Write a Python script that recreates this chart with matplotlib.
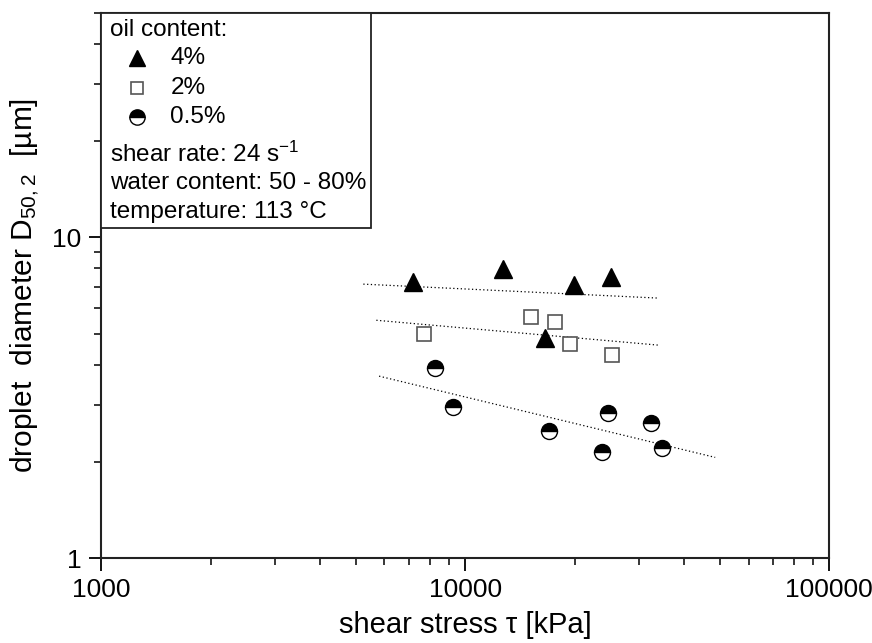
import matplotlib
matplotlib.use("Agg")
import matplotlib.pyplot as plt
from matplotlib.ticker import LogLocator, FuncFormatter, NullFormatter
from matplotlib.patches import Rectangle

plt.rcParams["font.family"] = ["Liberation Sans", "DejaVu Sans"]
plt.rcParams["mathtext.default"] = "regular"

# measured points
stress_4 = [7200, 12700, 19900, 25200, 16600]
d50_4 = [7.24, 7.95, 7.09, 7.50, 4.85]

stress_2 = [7700, 15200, 17600, 19400, 25300]
d50_2 = [4.99, 5.63, 5.44, 4.64, 4.29]

stress_05 = [8280, 9270, 17000, 24700, 23800, 32400, 34700]
d50_05 = [3.91, 2.95, 2.49, 2.83, 2.14, 2.63, 2.20]

# trend line end points
fit_x_4 = [5250, 33900]
fit_y_4 = [7.14, 6.46]
fit_x_2 = [5700, 33900]
fit_y_2 = [5.51, 4.61]
fit_x_05 = [5800, 48600]
fit_y_05 = [3.69, 2.06]

fig = plt.figure(figsize=(8.72, 6.43), dpi=100)
ax = fig.add_axes([0.116, 0.132, 0.835, 0.848])

dot = dict(color="black", linestyle=(0, (1, 2)), linewidth=0.9)
ax.plot(fit_x_4, fit_y_4, **dot)
ax.plot(fit_x_2, fit_y_2, **dot)
ax.plot(fit_x_05, fit_y_05, **dot)

ax.plot(stress_4, d50_4, linestyle="none", marker="^", markersize=12.5,
        color="black")
ax.plot(stress_2, d50_2, linestyle="none", marker="s", markersize=10,
        markerfacecolor="white", markeredgecolor="#555555", markeredgewidth=1.2)
ax.plot(stress_05, d50_05, linestyle="none", marker="o", markersize=11.5,
        fillstyle="top", markerfacecolor="black", markerfacecoloralt="white",
        markeredgecolor="black", markeredgewidth=1.0)

ax.set_xscale("log")
ax.set_yscale("log")
ax.set_xlim(1000, 100000)
ax.set_ylim(1, 50)

ax.xaxis.set_major_formatter(FuncFormatter(lambda v, p: f"{int(round(v))}"))
ax.yaxis.set_major_formatter(FuncFormatter(lambda v, p: f"{int(round(v))}"))
ax.xaxis.set_minor_formatter(NullFormatter())
ax.yaxis.set_minor_formatter(NullFormatter())
ax.xaxis.set_minor_locator(LogLocator(base=10, subs=range(2, 10)))
ax.yaxis.set_minor_locator(LogLocator(base=10, subs=range(2, 10)))

ax.tick_params(which="major", direction="out", length=9, width=1.3,
               labelsize=19, pad=5, top=False, right=False)
ax.tick_params(which="minor", direction="out", length=5, width=1.1,
               top=False, right=False)
for s in ax.spines.values():
    s.set_linewidth(1.5)
    s.set_color("#222222")

ax.set_xlabel("shear stress \u03c4 [kPa]", fontsize=21, labelpad=7)
ax.set_ylabel("droplet  diameter D$_{50,2}$  [\u00b5m]", fontsize=21.5,
              labelpad=8)

# legend box drawn by hand
box_w = 0.371
box_b = 0.6055
ax.add_patch(Rectangle((0, box_b), box_w, 1 - box_b, transform=ax.transAxes,
                       facecolor="white", edgecolor="#222222", linewidth=1.3,
                       zorder=5))
tx = 0.012
mx = 0.049
lx = 0.095
lab = dict(transform=ax.transAxes, fontsize=17.5, va="center", ha="left",
           zorder=6)
ax.text(tx, 0.969, "oil content:", **lab)
ax.plot([mx], [0.917], transform=ax.transAxes, marker="^", markersize=12,
        color="black", zorder=6, clip_on=False)
ax.text(lx, 0.917, "4%", **lab)
ax.plot([mx], [0.862], transform=ax.transAxes, marker="s", markersize=9,
        markerfacecolor="white", markeredgecolor="#555555",
        markeredgewidth=1.2, zorder=6, clip_on=False)
ax.text(lx, 0.862, "2%", **lab)
ax.plot([mx], [0.809], transform=ax.transAxes, marker="o", markersize=11,
        fillstyle="top", markerfacecolor="black", markerfacecoloralt="white",
        markeredgecolor="black", markeredgewidth=1.0, zorder=6, clip_on=False)
ax.text(lx, 0.809, "0.5%", **lab)
ax.text(tx, 0.741, "shear rate: 24 s$^{-1}$", **lab)
ax.text(tx, 0.688, "water content: 50 - 80%", **lab)
ax.text(tx, 0.635, "temperature: 113 \u00b0C", **lab)

fig.savefig("out.png", dpi=100)
plt.close(fig)
